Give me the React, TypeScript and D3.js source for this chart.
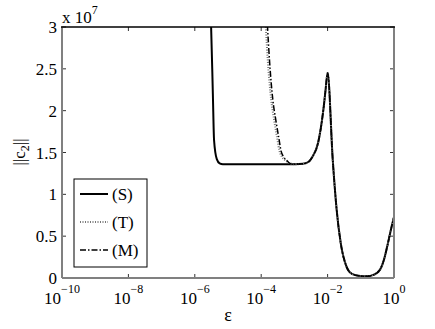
import React from 'react';
import * as d3 from 'd3';

// epsilon values and ||c2|| (in units of 1e7)
const sEps = [2.5e-6, 3.1e-6, 3.5e-6, 3.8e-6, 4.6e-6, 5.6e-6, 7e-6, 3.2e-5, 1e-4, 3.2e-4, 7.4e-4];
const sVal = [3.6, 3.0, 2.2, 1.65, 1.42, 1.37, 1.36, 1.36, 1.36, 1.36, 1.36];

const tEps = [1.26e-4, 1.38e-4, 1.58e-4, 2e-4, 2.45e-4, 3.1e-4, 3.5e-4, 4.2e-4, 5.2e-4, 7.4e-4];
const tVal = [3.3, 3.0, 2.6, 2.13, 1.89, 1.65, 1.53, 1.45, 1.41, 1.37];

const mEps = [1.41e-4, 1.55e-4, 1.78e-4, 2.24e-4, 2.75e-4, 3.47e-4, 3.9e-4, 4.7e-4, 5.8e-4, 7.4e-4];
const mVal = [3.3, 3.0, 2.6, 2.13, 1.89, 1.65, 1.53, 1.45, 1.41, 1.37];

// part shared by all three methods
const tailEps = [1.05e-3, 1.8e-3, 2.7e-3, 3.5e-3, 5.2e-3, 7.4e-3, 8.7e-3, 1e-2, 1.43e-2, 1.88e-2, 2.48e-2, 3.76e-2, 5.4e-2, 9.5e-2, 0.15, 0.25, 0.38, 0.5, 0.66, 0.81, 1];
const tailVal = [1.36, 1.365, 1.39, 1.45, 1.62, 2.0, 2.25, 2.45, 1.41, 0.81, 0.42, 0.13, 0.05, 0.025, 0.02, 0.04, 0.1, 0.22, 0.42, 0.58, 0.73];

const xTicks = [-10, -8, -6, -4, -2, 0];
const yTicks = [0, 0.5, 1, 1.5, 2, 2.5, 3];
const yTickLabels = ['0', '0.5', '1', '1.5', '2', '2.5', '3'];
const legendNames = ['(S)', '(T)', '(M)'];

const W = 435, H = 329;
const m = { left: 62, right: 394, top: 27, bottom: 278 };
const FONT = 'Liberation Serif, Times New Roman, Times, DejaVu Serif, serif';

const x = d3.scaleLog().domain([1e-10, 1]).range([m.left, m.right]);
const y = d3.scaleLinear().domain([0, 3]).range([m.bottom, m.top]);

const line = d3.line<[number, number]>()
  .x(d => x(d[0]))
  .y(d => y(d[1]))
  .curve(d3.curveMonotoneX);

const series = (e: number[], v: number[]) =>
  e.concat(tailEps).map((d, i) => [d, v.concat(tailVal)[i]] as [number, number]);

const styles = [
  { stroke: '#000', width: 2, dash: undefined as string | undefined },
  { stroke: '#777', width: 2, dash: '1 1.5' },
  { stroke: '#000', width: 1.5, dash: '6 2 1.5 2' },
];

const T = (props: any) => <text fontFamily={FONT} {...props} />;

export default function App() {
  const paths = [series(sEps, sVal), series(tEps, tVal), series(mEps, mVal)];
  const tick = 4;
  const gray = '#808080';
  return (
    <svg width={W} height={H} style={{ position: 'absolute', left: 0, top: 0, background: '#fff' }}>
      <defs>
        <clipPath id="plot">
          <rect x={m.left} y={m.top} width={m.right - m.left} height={m.bottom - m.top} />
        </clipPath>
      </defs>

      {/* ticks */}
      {xTicks.map(t => (
        <g key={'x' + t}>
          <line x1={x(10 ** t)} x2={x(10 ** t)} y1={m.bottom} y2={m.bottom - tick} stroke="#333" />
          <line x1={x(10 ** t)} x2={x(10 ** t)} y1={m.top} y2={m.top + tick} stroke="#333" />
          <T x={x(10 ** t)} y={304} textAnchor="middle" fontSize={17}>
            <tspan>10</tspan>
            <tspan dy={-11} fontSize={12}>{t === 0 ? '0' : '\u2212' + Math.abs(t)}</tspan>
          </T>
        </g>
      ))}
      {yTicks.map((t, i) => (
        <g key={'y' + t}>
          <line x1={m.left} x2={m.left + tick} y1={y(t)} y2={y(t)} stroke="#333" />
          <line x1={m.right} x2={m.right - tick} y1={y(t)} y2={y(t)} stroke="#333" />
          <T x={57} y={y(t) + 6} textAnchor="end" fontSize={17}>{yTickLabels[i]}</T>
        </g>
      ))}

      <g clipPath="url(#plot)">
        {paths.map((p, i) => (
          <path key={i} d={line(p) || ''} fill="none" stroke={styles[i].stroke}
            strokeWidth={styles[i].width} strokeDasharray={styles[i].dash} />
        ))}
      </g>

      {/* box */}
      <line x1={m.left} x2={m.left} y1={m.top} y2={m.bottom} stroke={gray} strokeWidth={2} />
      <line x1={m.right} x2={m.right} y1={m.top} y2={m.bottom} stroke={gray} strokeWidth={2} />
      <line x1={m.left} x2={m.right} y1={m.bottom} y2={m.bottom} stroke={gray} strokeWidth={2} />
      <line x1={m.left - 1} x2={m.right + 1} y1={m.top} y2={m.top} stroke="#000" strokeWidth={1.5} />

      {/* exponent */}
      <T x={62} y={23} fontSize={17}>
        <tspan>x 10</tspan>
        <tspan dy={-9} fontSize={12}>7</tspan>
      </T>

      {/* axis labels */}
      <T transform="translate(25,152) rotate(-90)" textAnchor="middle" fontSize={17}>
        <tspan>||c</tspan>
        <tspan dy={4} fontSize={12}>2</tspan>
        <tspan dy={-4}>||</tspan>
      </T>
      <T x={228} y={321} textAnchor="middle" fontSize={18}>ε</T>

      {/* legend */}
      <rect x={74} y={179} width={73} height={88} fill="#fff" stroke="#000" />
      {legendNames.map((n, i) => (
        <g key={n}>
          <line x1={80} x2={108} y1={194 + i * 28} y2={194 + i * 28} stroke={styles[i].stroke}
            strokeWidth={styles[i].width} strokeDasharray={styles[i].dash} />
          <T x={112} y={200 + i * 28} fontSize={17}>{n}</T>
        </g>
      ))}
    </svg>
  );
}
